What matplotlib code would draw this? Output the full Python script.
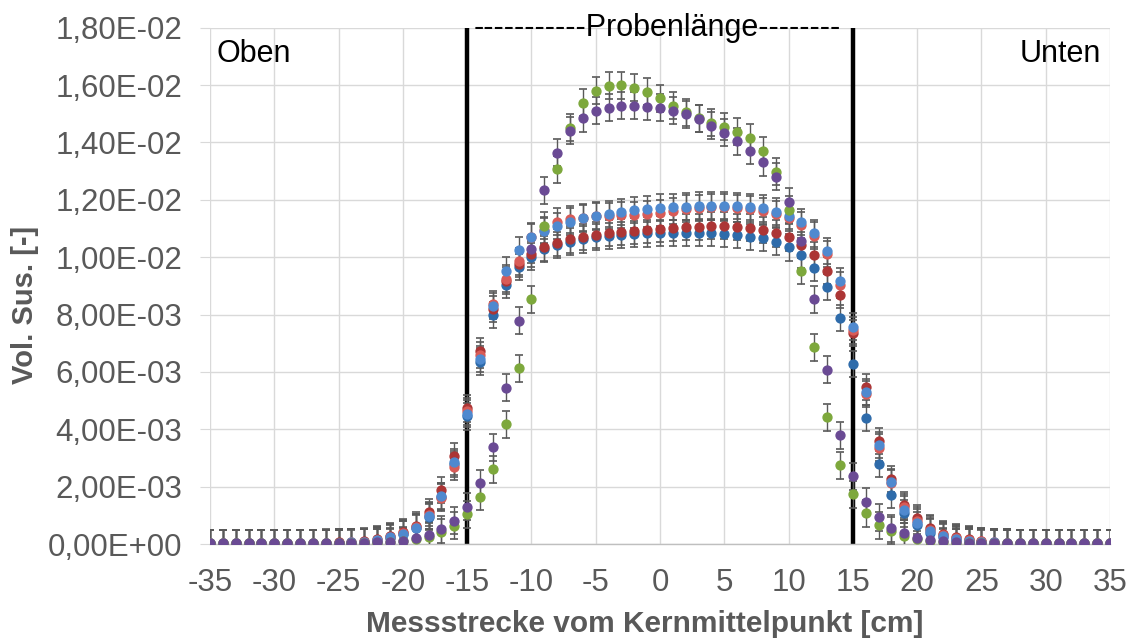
import matplotlib
matplotlib.use("Agg")
import matplotlib.pyplot as plt
from matplotlib.ticker import FuncFormatter, MultipleLocator

plt.rcParams['font.family'] = ['Liberation Sans', 'DejaVu Sans']
plt.rcParams['axes.unicode_minus'] = False

# Position along the core [cm]
x_cm = list(range(-35, 36))

SCALE = 1e-3  # values below are given in units of 1e-3

dark_blue = [0.02, 0.02, 0.02, 0.02, 0.02, 0.02, 0.02, 0.02, 0.02, 0.03, 0.03,
             0.05, 0.07, 0.12, 0.22, 0.35, 0.55, 0.95, 1.65, 2.80, 4.45,
             6.36, 7.98, 9.03, 9.65, 10.02, 10.28, 10.43, 10.54, 10.62, 10.71,
             10.74, 10.77, 10.81, 10.83, 10.85, 10.85, 10.85, 10.85, 10.85, 10.81,
             10.77, 10.71, 10.66, 10.54, 10.34, 10.08, 9.63, 8.95, 7.89, 6.28,
             4.40, 2.79, 1.71, 1.07, 0.66, 0.40, 0.25, 0.15, 0.10, 0.07,
             0.05, 0.04, 0.03, 0.03, 0.02, 0.02, 0.02, 0.02, 0.02, 0.02]

dark_red = [0.02, 0.02, 0.02, 0.02, 0.02, 0.03, 0.03, 0.03, 0.04, 0.05, 0.06,
            0.08, 0.10, 0.16, 0.29, 0.41, 0.64, 1.10, 1.88, 3.07, 4.73,
            6.72, 8.19, 9.18, 9.76, 10.11, 10.34, 10.51, 10.62, 10.70, 10.77,
            10.85, 10.87, 10.91, 10.95, 10.98, 11.03, 11.06, 11.06, 11.10, 11.10,
            11.06, 11.03, 10.95, 10.83, 10.69, 10.43, 10.08, 9.53, 8.68, 7.35,
            5.48, 3.59, 2.26, 1.36, 0.90, 0.55, 0.35, 0.23, 0.16, 0.10,
            0.07, 0.05, 0.04, 0.03, 0.02, 0.02, 0.02, 0.02, 0.02, 0.02]

light_red = [0.02, 0.02, 0.02, 0.02, 0.02, 0.02, 0.03, 0.03, 0.03, 0.04, 0.05,
             0.06, 0.08, 0.13, 0.24, 0.37, 0.58, 1.00, 1.62, 2.70, 4.62,
             6.60, 8.37, 9.25, 9.85, 10.72, 10.95, 11.24, 11.32, 11.38, 11.42,
             11.44, 11.47, 11.47, 11.51, 11.55, 11.62, 11.69, 11.72, 11.74, 11.74,
             11.70, 11.67, 11.62, 11.51, 11.38, 11.12, 10.75, 10.11, 9.03, 7.45,
             5.22, 3.36, 2.12, 1.30, 0.82, 0.50, 0.30, 0.20, 0.13, 0.09,
             0.06, 0.05, 0.04, 0.03, 0.02, 0.02, 0.02, 0.02, 0.02, 0.02]

light_blue = [0.02, 0.02, 0.02, 0.02, 0.02, 0.02, 0.03, 0.03, 0.03, 0.04, 0.05,
              0.06, 0.08, 0.13, 0.23, 0.36, 0.57, 0.98, 1.68, 2.85, 4.55,
              6.45, 8.30, 9.53, 10.25, 10.69, 10.92, 11.09, 11.24, 11.35, 11.45,
              11.51, 11.57, 11.65, 11.68, 11.73, 11.74, 11.76, 11.80, 11.80, 11.80,
              11.78, 11.74, 11.70, 11.59, 11.45, 11.22, 10.83, 10.22, 9.17, 7.58,
              5.30, 3.45, 2.15, 1.20, 0.75, 0.45, 0.28, 0.18, 0.12, 0.08,
              0.06, 0.05, 0.04, 0.03, 0.02, 0.02, 0.02, 0.02, 0.02, 0.02]

green = [0.02, 0.02, 0.02, 0.02, 0.02, 0.02, 0.02, 0.02, 0.02, 0.02, 0.03,
         0.03, 0.04, 0.05, 0.07, 0.10, 0.16, 0.25, 0.41, 0.63, 1.04,
         1.65, 2.60, 4.17, 6.13, 8.54, 11.09, 13.06, 14.52, 15.39, 15.80,
         15.97, 16.00, 15.91, 15.77, 15.54, 15.28, 15.06, 14.84, 14.69, 14.55,
         14.38, 14.17, 13.71, 12.98, 11.65, 9.53, 6.86, 4.42, 2.74, 1.73,
         1.07, 0.66, 0.46, 0.28, 0.16, 0.10, 0.07, 0.05, 0.04, 0.03,
         0.03, 0.02, 0.02, 0.02, 0.02, 0.02, 0.02, 0.02, 0.02, 0.02]

purple = [0.02, 0.02, 0.02, 0.02, 0.02, 0.02, 0.02, 0.02, 0.02, 0.03, 0.03,
          0.04, 0.05, 0.06, 0.08, 0.12, 0.20, 0.31, 0.52, 0.81, 1.30,
          2.12, 3.37, 5.45, 7.78, 10.28, 12.34, 13.64, 14.41, 14.84, 15.10,
          15.21, 15.28, 15.28, 15.25, 15.21, 15.11, 14.99, 14.82, 14.59, 14.34,
          14.04, 13.71, 13.31, 12.81, 11.94, 10.58, 8.54, 6.07, 3.80, 2.37,
          1.47, 0.93, 0.55, 0.37, 0.22, 0.14, 0.10, 0.07, 0.05, 0.04,
          0.03, 0.03, 0.02, 0.02, 0.02, 0.02, 0.02, 0.02, 0.02, 0.02]

# measurement uncertainty (absolute, same for all points of a series)
err_dark_blue = 0.46e-3
err_dark_red = 0.46e-3
err_light_red = 0.46e-3
err_light_blue = 0.46e-3
err_green = 0.47e-3
err_purple = 0.47e-3

series = [
    (dark_blue, err_dark_blue, '#2E6BAA'),
    (dark_red, err_dark_red, '#AC3535'),
    (light_red, err_light_red, '#D85B57'),
    (light_blue, err_light_blue, '#4F89CF'),
    (green, err_green, '#7DA83C'),
    (purple, err_purple, '#6A4A94'),
]

sample_bounds = [-15, 15]
header_text = '-----------Probenlänge--------'
left_text = 'Oben'
right_text = 'Unten'

fig = plt.figure(figsize=(11.3, 6.38), dpi=100)
ax = fig.add_axes([0.1858, 0.1473, 0.7965, 0.8093])

for vals, err, col in series:
    y = [v * SCALE for v in vals]
    ax.errorbar(x_cm, y, yerr=err, fmt='o', ms=6.4, color=col,
                ecolor='#595959', elinewidth=1.0, capsize=3.2, capthick=1.2,
                zorder=3)

ax.vlines(sample_bounds, 0, 0.018, colors='black', lw=3.2, zorder=2.5)

ax.text(-0.2, 0.018, header_text, ha='center', va='center', fontsize=22,
        color='black', zorder=4)
ax.text(-34.5, 0.01708, left_text, ha='left', va='center', fontsize=22, color='black')
ax.text(34.3, 0.01708, right_text, ha='right', va='center', fontsize=22, color='black')

ax.set_xlim(-35, 35)
ax.set_ylim(0, 0.018)
ax.xaxis.set_major_locator(MultipleLocator(5))
ax.yaxis.set_major_locator(MultipleLocator(0.002))
ax.yaxis.set_major_formatter(FuncFormatter(lambda v, p: f"{v:.2E}".replace('.', ',')))

ax.grid(True, color='#D9D9D9', lw=1.0, zorder=0)
ax.set_axisbelow(True)
for s in ['top', 'right', 'left']:
    ax.spines[s].set_visible(False)
ax.spines['bottom'].set_color('#BFBFBF')
ax.spines['bottom'].set_linewidth(1.0)

ax.tick_params(axis='y', length=7, color='#D9D9D9', labelsize=22.5,
               labelcolor='#595959', pad=13)
ax.tick_params(axis='x', length=0, labelsize=22.5, labelcolor='#595959', pad=17)

ax.set_xlabel('Messstrecke vom Kernmittelpunkt [cm]', fontsize=21.5,
              fontweight='bold', color='#595959')
ax.set_ylabel('Vol. Sus. [-]', fontsize=21, fontweight='bold', color='#595959')
ax.xaxis.set_label_coords(0.483, -0.128)
ax.yaxis.set_label_coords(-0.19, 0.463)

fig.savefig('out.png', dpi=100)
